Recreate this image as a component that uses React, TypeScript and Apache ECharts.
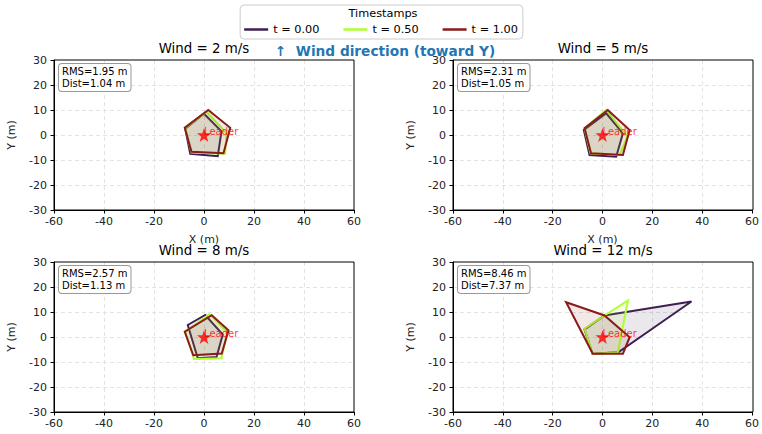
import React, { useEffect, useRef } from 'react';
import * as echarts from 'echarts';

const windSpeeds = [2, 5, 8, 12];
const rmsValues = [1.95, 2.31, 2.57, 8.46];
const distValues = [1.04, 1.05, 1.13, 7.37];
const timestamps = ['t = 0.00', 't = 0.50', 't = 1.00'];
const leaderPos = [0, 0];

// formation polygons [x, y] in metres, per wind speed and timestamp
const wind2T0 = [[0, 8.5], [7, 1.5], [5.5, -8.5], [-5.5, -7.5], [-7.5, 2.5]];
const wind2T05 = [[1, 9.3], [9, 0.8], [8.5, -7.5], [-5, -7], [-7.5, 2.8]];
const wind2T1 = [[1.7, 10], [10.5, 2.9], [7.8, -7.3], [-5, -6.7], [-7.7, 2.9]];

const wind5T0 = [[1.5, 8.7], [8.2, 0.7], [5.5, -8.7], [-5.2, -8], [-7.5, 2]];
const wind5T05 = [[1.5, 10], [10, -0.7], [6.9, -8], [-4.8, -7.3], [-7.2, 2.7]];
const wind5T1 = [[2.1, 10], [10.9, 2], [8.2, -8], [-4.6, -7.3], [-7.2, 2.7]];

const wind8T0 = [[-6.5, 4.8], [0.5, 8.8], [7.5, 1], [5, -8], [-2.5, -8.5]];
const wind8T05 = [[2.2, 9.2], [9.3, 2], [7, -8.5], [-4, -8.8], [-7.5, 2]];
const wind8T1 = [[3.1, 8.7], [9.8, 2.7], [7.1, -6.6], [-4.3, -7.3], [-7.7, 2.1]];

const wind12T0 = [[0.8, 8.6], [35.7, 14.2], [6.5, -6], [-4, -6.8], [-7.2, 3]];
const wind12T05 = [[0.8, 8.6], [10.2, 14.6], [6.2, -6.1], [-4, -6.8], [-7.2, 3.3]];
const wind12T1 = [[-14.6, 13.9], [0.8, 8.6], [10.9, -0.1], [8.2, -6.7], [-3.9, -6.7]];

const formations = [
  [wind2T0, wind2T05, wind2T1],
  [wind5T0, wind5T05, wind5T1],
  [wind8T0, wind8T05, wind8T1],
  [wind12T0, wind12T05, wind12T1],
];

const xMin = -60, xMax = 60, xStep = 20;
const yMin = -30, yMax = 30, yStep = 10;

const lineColors = ['#3e1f52', '#adff2f', '#8b1a1a'];
const fillColors = ['rgba(62,31,82,0.1)', 'rgba(173,255,47,0.1)', 'rgba(139,26,26,0.1)'];

const FONT = 'DejaVu Sans, sans-serif';
const starPath =
  'path://M12,1 L14.6,8.6 L22.5,8.7 L16.2,13.5 L18.5,21.1 L12,16.6 L5.5,21.1 L7.8,13.5 L1.5,8.7 L9.4,8.6 Z';

const gridPos = [
  { left: 54, top: 60 },
  { left: 453, top: 60 },
  { left: 54, top: 262 },
  { left: 453, top: 262 },
];
const GW = 300;
const GH = 150;

function buildOption() {
  const grid: any[] = [];
  const xAxis: any[] = [];
  const yAxis: any[] = [];
  const series: any[] = [];
  const graphic: any[] = [];

  windSpeeds.forEach((w, i) => {
    const g = gridPos[i];
    grid.push({
      left: g.left,
      top: g.top,
      width: GW,
      height: GH,
      show: false,
    });
    const split = {
      show: true,
      showMinLine: false,
      showMaxLine: false,
      lineStyle: { color: '#dcdcdc', type: [4, 3], width: 0.8 },
    };
    xAxis.push({
      type: 'value',
      gridIndex: i,
      min: xMin,
      max: xMax,
      interval: xStep,
      name: i < 2 ? 'X (m)' : '',
      nameLocation: 'middle',
      nameGap: 24,
      nameTextStyle: { fontFamily: FONT, fontSize: 11, color: '#222' },
      axisLine: { show: true, onZero: false, lineStyle: { color: '#000', width: 1 } },
      axisTick: { show: true, length: 3.5, lineStyle: { color: '#000' } },
      axisLabel: { margin: 6, fontFamily: FONT, fontSize: 11, color: '#222' },
      splitLine: split,
    });
    yAxis.push({
      type: 'value',
      gridIndex: i,
      min: yMin,
      max: yMax,
      interval: yStep,
      name: 'Y (m)',
      nameLocation: 'middle',
      nameGap: 37,
      nameRotate: 90,
      nameTextStyle: { fontFamily: FONT, fontSize: 11, color: '#222' },
      axisLine: { show: true, onZero: false, lineStyle: { color: '#000', width: 1 } },
      axisTick: { show: true, length: 3.5, lineStyle: { color: '#000' } },
      axisLabel: { margin: 7, fontFamily: FONT, fontSize: 11, color: '#222' },
      splitLine: split,
    });

    formations[i].forEach((poly, k) => {
      series.push({
        type: 'custom',
        name: timestamps[k],
        xAxisIndex: i,
        yAxisIndex: i,
        itemStyle: { color: lineColors[k] },
        data: [[0]],
        z: 2 + k,
        renderItem: (params: any, api: any) => {
          const pts = poly.map((p) => api.coord(p));
          return {
            type: 'polygon',
            shape: { points: pts },
            style: {
              fill: fillColors[k],
              stroke: lineColors[k],
              lineWidth: 2,
              lineJoin: 'miter',
            },
          };
        },
      });
    });

    series.push({
      type: 'scatter',
      xAxisIndex: i,
      yAxisIndex: i,
      symbol: starPath,
      symbolSize: 14,
      z: 10,
      itemStyle: { color: '#ff0000' },
      data: [leaderPos],
      label: {
        show: true,
        formatter: 'Leader',
        position: 'inside',
        align: 'left',
        verticalAlign: 'middle',
        offset: [0, -4],
        color: '#ff0000',
        fontFamily: FONT,
        fontSize: 10,
      },
      silent: true,
    });

    // axes frame (matplotlib spines)
    graphic.push({
      type: 'rect',
      shape: { x: g.left, y: g.top, width: GW, height: GH },
      style: { fill: 'none', stroke: '#000', lineWidth: 1 },
      z: 15,
      silent: true,
    });

    graphic.push({
      type: 'text',
      x: g.left + GW / 2,
      y: g.top - 12,
      style: {
        text: `Wind = ${w} m/s`,
        fill: '#000',
        font: `13.4px ${FONT}`,
        align: 'center',
        verticalAlign: 'middle',
      },
      z: 20,
    });
    graphic.push({
      type: 'text',
      x: g.left + 5,
      y: g.top + 4,
      z: 20,
      style: {
        text: `RMS=${rmsValues[i].toFixed(2)} m\nDist=${distValues[i].toFixed(2)} m`,
        fill: '#000',
        font: `10px ${FONT}`,
        lineHeight: 12.5,
        backgroundColor: '#fff',
        borderColor: '#999',
        borderWidth: 1,
        borderRadius: 3,
        padding: [1, 3, 1, 3],
      },
    });
  });

  graphic.push({
    type: 'text',
    x: 383,
    y: 13.5,
    z: 30,
    style: {
      text: 'Timestamps',
      fill: '#000',
      font: `11.3px ${FONT}`,
      align: 'center',
      verticalAlign: 'middle',
    },
  });
  graphic.push({
    type: 'text',
    x: 385,
    y: 50.5,
    z: 30,
    style: {
      text: '\u2191  Wind direction (toward Y)',
      fill: '#1f77b4',
      font: `bold 13.7px ${FONT}`,
      align: 'center',
      verticalAlign: 'middle',
    },
  });

  return {
    animation: false,
    backgroundColor: '#fff',
    textStyle: { fontFamily: FONT },
    grid,
    xAxis,
    yAxis,
    series,
    graphic,
    legend: {
      data: timestamps.map((name) => ({ name, icon: 'rect' })),
      left: 'center',
      top: 5,
      orient: 'horizontal',
      itemWidth: 24,
      itemHeight: 2.5,
      itemGap: 24,
      padding: [19, 5, 4, 4],
      borderColor: '#cccccc',
      borderWidth: 1,
      borderRadius: 4,
      backgroundColor: 'rgba(255,255,255,0.9)',
      textStyle: { fontFamily: FONT, fontSize: 11.3, color: '#000' },
      selectedMode: false,
    },
  };
}

export default function App() {
  const ref = useRef<HTMLDivElement>(null);
  useEffect(() => {
    document.body.style.margin = '0';
    if (!ref.current) return;
    const chart = echarts.init(ref.current, null, { renderer: 'svg' });
    chart.setOption(buildOption() as any);
    return () => chart.dispose();
  }, []);
  return <div ref={ref} style={{ width: 762, height: 434 }} />;
}
